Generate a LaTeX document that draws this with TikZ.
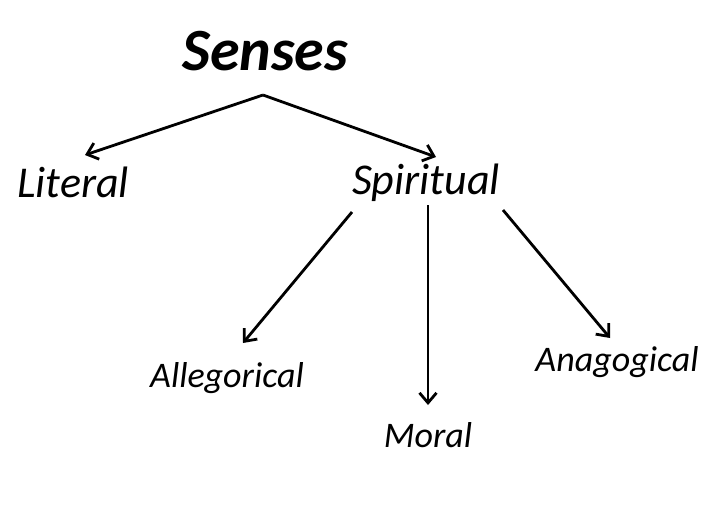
\documentclass[tikz,border=0pt]{standalone}
\usepackage{fontspec}
\setmainfont{Carlito}
\usetikzlibrary{arrows.meta}
\begin{document}
\begin{tikzpicture}[x=1pt,y=-1pt,
  lbl/.style={font=\itshape, inner sep=0pt, anchor=center},
  big/.style={font=\itshape\fontsize{44}{48}\selectfont},
  small/.style={font=\itshape\fontsize{36}{40}\selectfont},
  arr/.style={line width=2.8pt, -{Straight Barb[length=10pt,width=17pt,line width=2.8pt]}}]
\useasboundingbox (0,0) rectangle (720,507);
\node[lbl, font=\bfseries\itshape\fontsize{60}{64}\selectfont] (senses) at (265,51) {Senses};
\node[lbl, big] (literal) at (73,182) {Literal};
\node[lbl, big] (spiritual) at (426,183) {Spiritual};
\node[lbl, small] (alleg) at (227,378) {Allegorical};
\node[lbl, small] (moral) at (428,435) {Moral};
\node[lbl, small] (anag) at (617,362) {Anagogical};
\coordinate (s0) at (263,95);
\coordinate (l1) at (85,155);
\coordinate (p1) at (436,157);
\coordinate (p2) at (352,212);
\coordinate (a1) at (243,343);
\coordinate (p3) at (428,205);
\coordinate (m1) at (428,405);
\coordinate (p4) at (503,210);
\coordinate (n1) at (610,338);
\draw[arr] (s0) -- (l1);
\draw[arr] (s0) -- (p1);
\draw[arr] (p2) -- (a1);
\draw[arr] (p3) -- (m1);
\draw[arr] (p4) -- (n1);
\end{tikzpicture}
\end{document}
